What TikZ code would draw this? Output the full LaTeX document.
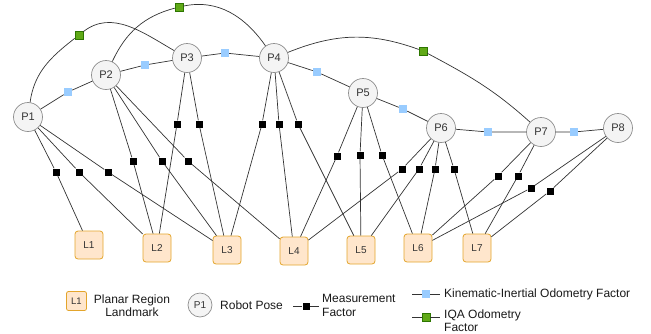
\documentclass[tikz,border=0pt]{standalone}
\usepackage{fontspec}
\setmainfont{Liberation Sans}
\definecolor{posefill}{HTML}{F4F4F4}
\definecolor{posedraw}{HTML}{8F8F8F}
\definecolor{lmfill}{HTML}{FFE6CC}
\definecolor{lmdraw}{HTML}{E3A52C}
\definecolor{kinfill}{HTML}{99CCFF}
\definecolor{iqafill}{HTML}{60A917}
\definecolor{iqadraw}{HTML}{2D7600}
\definecolor{linkcol}{HTML}{333333}
\tikzset{
    pose/.style={circle, draw=posedraw, fill=posefill, line width=0.7pt, minimum size=29pt, inner sep=0pt, text=black!80, font=\fontsize{11}{11}\selectfont},
    landmark/.style={rectangle, rounded corners=3pt, draw=lmdraw, fill=lmfill, line width=0.8pt, minimum size=28pt, inner sep=0pt, text=black!80, font=\fontsize{10}{10}\selectfont},
    meas/.style={rectangle, fill=black, minimum size=7pt, inner sep=0pt},
    kin/.style={rectangle, fill=kinfill, minimum size=8pt, inner sep=0pt},
    iqa/.style={rectangle, fill=iqafill, draw=iqadraw, line width=0.5pt, minimum size=8pt, inner sep=0pt},
    link/.style={draw=linkcol, line width=0.7pt},
    legendtext/.style={inner sep=1pt, text=black!90, font=\fontsize{12}{13.5}\selectfont}
}
\begin{document}
\begin{tikzpicture}[x=1pt, y=1pt]
        \useasboundingbox (0,0) rectangle (651,-333);

        % poses
        \node[pose] (P1) at (28,-117) {P1};
        \node[pose] (P2) at (106,-75) {P2};
        \node[pose] (P3) at (187,-58) {P3};
        \node[pose] (P4) at (274,-58) {P4};
        \node[pose] (P5) at (363,-93) {P5};
        \node[pose] (P6) at (441,-128) {P6};
        \node[pose] (P7) at (541,-132) {P7};
        \node[pose] (P8) at (618,-128) {P8};

        % landmarks
        \node[landmark] (L1) at (89,-245) {L1};
        \node[landmark] (L2) at (157,-248) {L2};
        \node[landmark] (L3) at (227,-250) {L3};
        \node[landmark] (L4) at (294,-251) {L4};
        \node[landmark] (L5) at (361,-250) {L5};
        \node[landmark] (L6) at (418,-248) {L6};
        \node[landmark] (L7) at (477,-248) {L7};

        % kinematic-inertial odometry
        \node[kin] (k1) at (68,-92) {};
        \node[kin] (k2) at (145,-65) {};
        \node[kin] (k3) at (225,-53) {};
        \node[kin] (k4) at (317,-72) {};
        \node[kin] (k5) at (403,-109) {};
        \node[kin] (k6) at (488,-132) {};
        \node[kin] (k7) at (574,-132) {};
        \draw[link] (P1) -- (k1) -- (P2);
        \draw[link] (P2) -- (k2) -- (P3);
        \draw[link] (P3) -- (k3) -- (P4);
        \draw[link] (P4) -- (k4) -- (P5);
        \draw[link] (P5) -- (k5) -- (P6);
        \draw[link] (P6) -- (k6) -- (P7);
        \draw[link] (P7) -- (k7) -- (P8);

        % IQA odometry
        \node[iqa] (g1) at (79,-35) {};
        \node[iqa] (g2) at (179,-7) {};
        \node[iqa] (g3) at (423,-51) {};
        \draw[link] (P1) to[out=82, in=218] (g1);
        \draw[link] (g1) to[out=38, in=150] (P3);
        \draw[link] (P2) to[out=65, in=195] (g2);
        \draw[link] (g2) to[out=12, in=125] (P4);
        \draw[link] (P4) to[out=22, in=160] (g3);
        \draw[link] (g3) to[out=-28, in=138] (P7);

        % measurements
        \node[meas] (m11) at (56,-172) {};
        \node[meas] (m12) at (79,-172) {};
        \node[meas] (m13) at (108,-172) {};
        \node[meas] (m21) at (133,-161) {};
        \node[meas] (m22) at (162,-161) {};
        \node[meas] (m23) at (188,-161) {};
        \node[meas] (m31) at (177,-124) {};
        \node[meas] (m32) at (199,-124) {};
        \node[meas] (m41) at (262,-124) {};
        \node[meas] (m42) at (279,-124) {};
        \node[meas] (m43) at (298,-124) {};
        \node[meas] (m51) at (337,-156) {};
        \node[meas] (m52) at (360,-155) {};
        \node[meas] (m53) at (382,-155) {};
        \node[meas] (m61) at (402,-169) {};
        \node[meas] (m62) at (419,-169) {};
        \node[meas] (m63) at (435,-169) {};
        \node[meas] (m64) at (454,-169) {};
        \node[meas] (m71) at (498,-176) {};
        \node[meas] (m72) at (518,-176) {};
        \node[meas] (m81) at (531,-188) {};
        \node[meas] (m82) at (550,-191) {};
        \draw[link] (P1) -- (m11) -- (L1);
        \draw[link] (P1) -- (m12) -- (L2);
        \draw[link] (P1) -- (m13) -- (L3);
        \draw[link] (P2) -- (m21) -- (L2);
        \draw[link] (P2) -- (m22) -- (L3);
        \draw[link] (P2) -- (m23) -- (L4);
        \draw[link] (P3) -- (m31) -- (L2);
        \draw[link] (P3) -- (m32) -- (L3);
        \draw[link] (P4) -- (m41) -- (L3);
        \draw[link] (P4) -- (m42) -- (L4);
        \draw[link] (P4) -- (m43) -- (L5);
        \draw[link] (P5) -- (m51) -- (L4);
        \draw[link] (P5) -- (m52) -- (L5);
        \draw[link] (P5) -- (m53) -- (L6);
        \draw[link] (P6) -- (m61) -- (L4);
        \draw[link] (P6) -- (m62) -- (L5);
        \draw[link] (P6) -- (m63) -- (L6);
        \draw[link] (P6) -- (m64) -- (L7);
        \draw[link] (P7) -- (m71) -- (L6);
        \draw[link] (P7) -- (m72) -- (L7);
        \draw[link] (P8) -- (m81) -- (L6);
        \draw[link] (P8) -- (m82) -- (L7);

        % legend
        \node[landmark, minimum width=20pt, minimum height=19pt, rounded corners=2pt, font=\fontsize{9.5}{9.5}\selectfont] (legL) at (76.5,-301) {L1};
        \node[legendtext, align=center] (legLtext) at (132,-305.5) {Planar Region\\Landmark};
        \node[pose, minimum size=24pt, font=\fontsize{10}{10}\selectfont] (legP) at (200,-305) {P1};
        \node[legendtext, anchor=west] (legPtext) at (219,-305) {Robot Pose};
        \coordinate (ma) at (293,-306);
        \coordinate (mb) at (319,-306);
        \node[meas] (legM) at (306,-306) {};
        \draw[link] (ma) -- (legM) -- (mb);
        \node[legendtext, anchor=west, align=left] (legMtext) at (321,-305.5) {Measurement\\Factor};
        \coordinate (ka) at (412,-294);
        \coordinate (kb) at (440,-294);
        \node[kin] (legK) at (426,-294) {};
        \draw[link] (ka) -- (legK) -- (kb);
        \node[legendtext, anchor=west] (legKtext) at (443,-294) {Kinematic-Inertial Odometry Factor};
        \coordinate (ga) at (412,-317);
        \coordinate (gb) at (440,-317);
        \node[iqa] (legG) at (426,-317) {};
        \draw[link] (ga) -- (legG) -- (gb);
        \node[legendtext, anchor=west, align=left, font=\fontsize{12}{12.5}\selectfont] (legGtext) at (443,-320.5) {IQA Odometry\\Factor};
    \end{tikzpicture}
\end{document}
